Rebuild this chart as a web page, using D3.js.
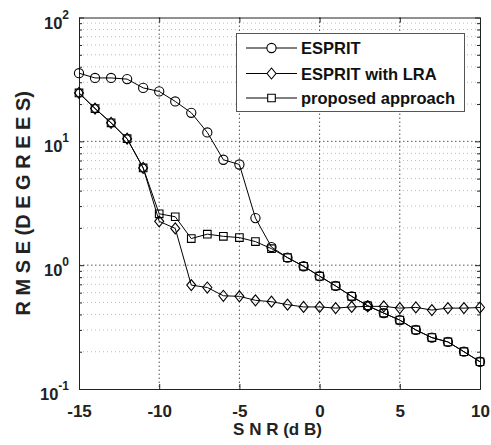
<!DOCTYPE html>
<html>
<head>
<meta charset="utf-8">
<script src="https://cdn.jsdelivr.net/npm/d3@7/dist/d3.min.js"></script>
<style>
  body { margin: 0; background: #fff; }
  svg { display: block; font-family: "Liberation Sans", Arial, sans-serif; font-weight: bold; }
</style>
</head>
<body>
<svg id="chart" width="491" height="445"></svg>
<script>
// SNR values (dB)
var snr = [-15,-14,-13,-12,-11,-10,-9,-8,-7,-6,-5,-4,-3,-2,-1,0,1,2,3,4,5,6,7,8,9,10];
// RMSE (degrees)
var esprit   = [35.5,32.5,32.5,31.8,27,25.3,21,17,11.8,7.1,6.5,2.4,1.4,1.15,0.98,0.815,0.68,0.56,0.47,0.41,0.36,0.30,0.26,0.24,0.20,0.166];
var espritLRA = [24.6,18.4,14.1,10.5,6.1,2.26,1.98,0.69,0.66,0.566,0.56,0.52,0.507,0.48,0.46,0.46,0.45,0.46,0.465,0.465,0.45,0.456,0.434,0.45,0.45,0.455];
var proposed = [24.6,18.4,14.1,10.5,6.1,2.6,2.46,1.64,1.78,1.71,1.67,1.55,1.36,1.15,0.98,0.815,0.68,0.56,0.47,0.41,0.36,0.30,0.26,0.24,0.20,0.166];

var seriesNames = ["ESPRIT", "ESPRIT with LRA", "proposed approach"];
var seriesMarks = ["circle", "diamond", "square"];
var xTicks = [-15,-10,-5,0,5,10];
var yTicks = [0.1,1,10,100];
var yExp = ["-1","0","1","2"];

// plot box
var pL = 79, pR = 480, pT = 17.5, pB = 389;
var svg = d3.select("#chart");

var x = d3.scaleLinear().domain([-15,10]).range([pL,pR]);
var y = d3.scaleLog().domain([0.1,100]).range([pB,pT]);

// minor log values
var minor = [];
[0.1,1,10].forEach(function(d){
  for (var k = 2; k <= 9; k++) minor.push(d*k);
});

// grid
var grid = svg.append("g");
grid.selectAll(".ymin").data(minor).enter().append("line")
  .attr("x1", pL).attr("x2", pR)
  .attr("y1", function(d){ return y(d); }).attr("y2", function(d){ return y(d); })
  .attr("stroke", "#bbb").attr("stroke-width", 1).attr("stroke-dasharray", "1,3");
grid.selectAll(".ymaj").data([1,10]).enter().append("line")
  .attr("x1", pL).attr("x2", pR)
  .attr("y1", function(d){ return y(d); }).attr("y2", function(d){ return y(d); })
  .attr("stroke", "#555").attr("stroke-width", 1).attr("stroke-dasharray", "1.5,2.5");
grid.selectAll(".xmaj").data([-10,-5,0,5]).enter().append("line")
  .attr("y1", pT).attr("y2", pB)
  .attr("x1", function(d){ return x(d); }).attr("x2", function(d){ return x(d); })
  .attr("stroke", "#555").attr("stroke-width", 1).attr("stroke-dasharray", "1.5,2.5");

// axes (ticks inward)
function styleAxis(g){
  g.select(".domain").attr("stroke", "#222");
  g.selectAll(".tick line").attr("stroke", "#222");
}
svg.append("g").attr("transform", "translate(0," + pB + ")")
  .call(d3.axisBottom(x).tickValues(xTicks).tickSizeInner(-5).tickSizeOuter(0).tickPadding(16)
    .tickFormat(function(d){ return String(d); }))
  .call(styleAxis)
  .call(function(g){
    g.selectAll("text").attr("font-size", 17).attr("font-weight", "bold")
      .attr("font-family", "Liberation Sans, Arial, sans-serif").attr("fill", "#222");
  });
svg.append("g").attr("transform", "translate(0," + pT + ")")
  .call(d3.axisTop(x).tickValues(xTicks).tickSizeInner(-5).tickSizeOuter(0).tickFormat(""))
  .call(styleAxis);

var yl = svg.append("g").attr("transform", "translate(" + pL + ",0)")
  .call(d3.axisLeft(y).tickValues(yTicks).tickSizeInner(-5).tickSizeOuter(0).tickPadding(10)
    .tickFormat(function(){ return "10"; }))
  .call(styleAxis);
yl.selectAll("text")
  .attr("font-size", 16.5).attr("font-weight", "bold").attr("fill", "#222")
  .attr("font-family", "Liberation Sans, Arial, sans-serif")
  .attr("dy", "10.5")
  .each(function(d, i){
    d3.select(this).append("tspan").attr("dy", -10).attr("font-size", 12).text(yExp[i]);
  });
svg.append("g").attr("transform", "translate(" + pL + ",0)")
  .call(d3.axisLeft(y).tickValues(minor).tickSizeInner(-3).tickSizeOuter(0).tickFormat(""))
  .call(styleAxis);
svg.append("g").attr("transform", "translate(" + pR + ",0)")
  .call(d3.axisRight(y).tickValues(yTicks).tickSizeInner(-5).tickSizeOuter(0).tickFormat(""))
  .call(styleAxis);
svg.append("g").attr("transform", "translate(" + pR + ",0)")
  .call(d3.axisRight(y).tickValues(minor).tickSizeInner(-3).tickSizeOuter(0).tickFormat(""))
  .call(styleAxis);

// axis titles
svg.append("text").attr("x", (pL+pR)/2 - 2).attr("y", 435)
  .attr("text-anchor", "middle").attr("font-size", 17).attr("fill", "#222")
  .text("S N R (d B)");
svg.append("text").attr("transform", "translate(30," + ((pT+pB)/2) + ") rotate(-90)")
  .attr("text-anchor", "middle").attr("font-size", 20).attr("fill", "#222")
  .text("R M S E (D E G R E E S)");

// markers
function markerPath(type){
  if (type === "circle") return d3.symbol().type(d3.symbolCircle).size(Math.PI*4.6*4.6)();
  if (type === "square") return "M-3.8,-3.8H3.8V3.8H-3.8Z";
  return "M0,-5.5L4.5,0L0,5.5L-4.5,0Z";
}

var allSeries = [esprit, espritLRA, proposed];
var line = d3.line().x(function(d,i){ return x(snr[i]); }).y(function(d){ return y(d); });

allSeries.forEach(function(vals, s){
  var g = svg.append("g");
  g.append("path").datum(vals).attr("d", line)
    .attr("fill", "none").attr("stroke", "#000").attr("stroke-width", 1);
  g.selectAll("path.m").data(vals).enter().append("path").attr("class", "m")
    .attr("transform", function(d,i){ return "translate(" + x(snr[i]) + "," + y(d) + ")"; })
    .attr("d", markerPath(seriesMarks[s]))
    .attr("fill", "none").attr("stroke", "#000").attr("stroke-width", 1.1);
});

// legend
var lg = svg.append("g");
lg.append("rect").attr("x", 236.5).attr("y", 33.5).attr("width", 228).attr("height", 78)
  .attr("fill", "#fff").attr("stroke", "#555").attr("stroke-width", 1);
var rows = [48, 73.5, 98];
seriesNames.forEach(function(name, s){
  var r = lg.append("g").attr("transform", "translate(0," + rows[s] + ")");
  r.append("line").attr("x1", 246).attr("x2", 297).attr("y1", 0).attr("y2", 0)
    .attr("stroke", "#000").attr("stroke-width", 1);
  r.append("path").attr("transform", "translate(271.5,0)").attr("d", markerPath(seriesMarks[s]))
    .attr("fill", "#fff").attr("stroke", "#000").attr("stroke-width", 1.1);
  r.append("text").attr("x", 301).attr("y", 6).attr("font-size", 16.5).attr("fill", "#111")
    .text(name);
});
</script>
</body>
</html>
